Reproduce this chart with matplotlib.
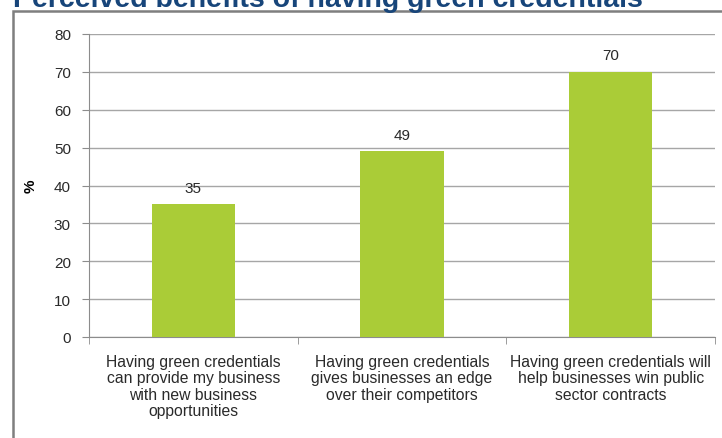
import matplotlib
matplotlib.use("Agg")
import matplotlib.pyplot as plt
from matplotlib.patches import Rectangle

categories = [
    "Having green credentials\ncan provide my business\nwith new business\nopportunities",
    "Having green credentials\ngives businesses an edge\nover their competitors",
    "Having green credentials will\nhelp businesses win public\nsector contracts",
]
values = [35, 49, 70]
yticks = [0, 10, 20, 30, 40, 50, 60, 70, 80]
title = "Perceived benefits of having green credentials"

plt.rcParams["font.family"] = ["Liberation Sans", "DejaVu Sans"]

fig = plt.figure(figsize=(7.22, 4.39), dpi=100)

# outer frame of the slide panel
fig.patches.append(Rectangle((12.5 / 722, -0.1), 1.2, 1.1 - 12.5 / 439,
                             transform=fig.transFigure, fill=False,
                             edgecolor="#7F7F7F", linewidth=1.8))
fig.text(13 / 722, 1 - 7 / 439, title, color="#17457A", fontsize=20.5,
         fontweight="bold", va="baseline", ha="left")

ax = fig.add_axes([89 / 722, 1 - 338 / 439, 626 / 722, 303 / 439])
x = range(len(values))
bars = ax.bar(x, values, width=0.4, color="#AACC37", zorder=3)
for xi, v in zip(x, values):
    ax.annotate(str(v), (xi, v), xytext=(0, 7), textcoords="offset points",
                ha="center", va="bottom", fontsize=11, color="#2A2A2A")

ax.set_xlim(-0.5, 2.5)
ax.set_ylim(0, 80)
ax.set_yticks(yticks)
ax.tick_params(axis="y", length=5, color="#8C8C8C", pad=8, labelsize=11,
               labelcolor="#2A2A2A")
ax.set_xticks(list(x))
ax.set_xticklabels(categories, fontsize=11.3, color="#2A2A2A", linespacing=1.13)
ax.set_xticks([-0.5, 0.5, 1.5, 2.5], minor=True)
ax.tick_params(axis="x", which="major", length=0, pad=12)
ax.tick_params(axis="x", which="minor", length=5, color="#8C8C8C")
ax.grid(axis="y", color="#A6A6A6", linewidth=1, zorder=0)
for s in ["top", "right"]:
    ax.spines[s].set_visible(False)
for s in ["left", "bottom"]:
    ax.spines[s].set_color("#8C8C8C")
ax.set_ylabel("%", fontsize=11, fontweight="bold", labelpad=12)

plt.savefig("out.png", dpi=100)
